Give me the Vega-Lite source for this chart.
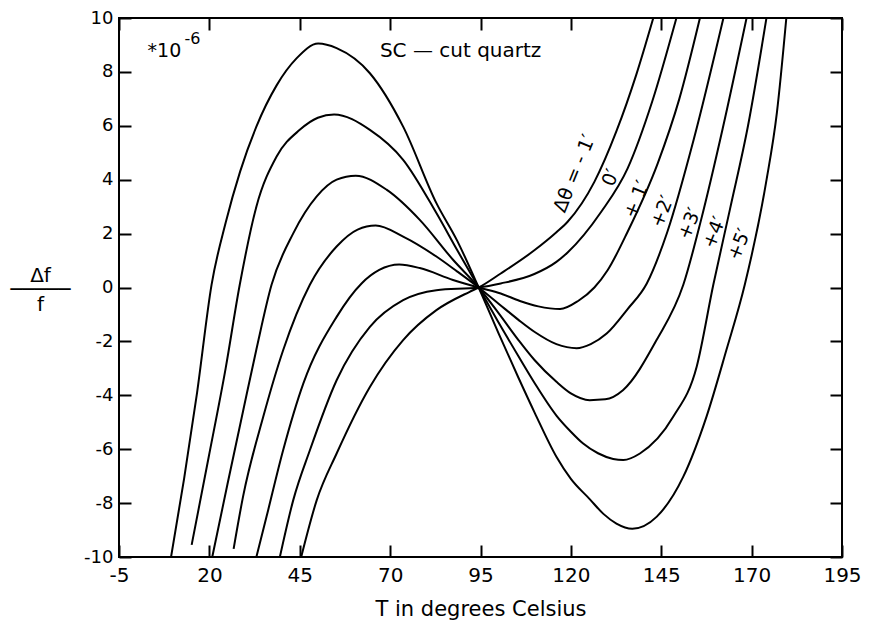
{
  "$schema": "https://vega.github.io/schema/vega-lite/v6.json",
  "width": 723,
  "height": 539,
  "autosize": {"type": "none"},
  "padding": {"left": 119, "top": 18, "right": 27, "bottom": 65},
  "background": "white",
  "config": {
    "font": "DejaVu Sans",
    "view": {"stroke": "black", "strokeWidth": 2},
    "axis": {
      "grid": false,
      "domain": false,
      "offset": -12,
      "tickColor": "black",
      "tickWidth": 2,
      "tickSize": 12,
      "labelColor": "black",
      "titleColor": "black",
      "titleFontWeight": "normal",
      "labelFont": "DejaVu Sans",
      "titleFont": "DejaVu Sans"
    }
  },
  "datasets": {
    "curves": [
      {"dtheta": "+5", "T": 9.4, "df": -10},
      {"dtheta": "+5", "T": 13.0, "df": -7.1},
      {"dtheta": "+5", "T": 16.6, "df": -3.9},
      {"dtheta": "+5", "T": 20.6, "df": 0.1},
      {"dtheta": "+5", "T": 24.5, "df": 2.4},
      {"dtheta": "+5", "T": 28.5, "df": 4.3},
      {"dtheta": "+5", "T": 33.0, "df": 5.97},
      {"dtheta": "+5", "T": 38.6, "df": 7.5},
      {"dtheta": "+5", "T": 44.1, "df": 8.5},
      {"dtheta": "+5", "T": 50.1, "df": 9.05},
      {"dtheta": "+5", "T": 55.2, "df": 8.88},
      {"dtheta": "+5", "T": 64.4, "df": 7.95},
      {"dtheta": "+5", "T": 73.6, "df": 5.97},
      {"dtheta": "+5", "T": 82.8, "df": 3.13},
      {"dtheta": "+5", "T": 88.5, "df": 1.75},
      {"dtheta": "+5", "T": 94.5, "df": 0},
      {"dtheta": "+5", "T": 100.0, "df": -1.7},
      {"dtheta": "+5", "T": 105.5, "df": -3.35},
      {"dtheta": "+5", "T": 110.0, "df": -4.65},
      {"dtheta": "+5", "T": 116.0, "df": -6.28},
      {"dtheta": "+5", "T": 120.0, "df": -7.1},
      {"dtheta": "+5", "T": 125.2, "df": -7.85},
      {"dtheta": "+5", "T": 129.0, "df": -8.4},
      {"dtheta": "+5", "T": 132.6, "df": -8.76},
      {"dtheta": "+5", "T": 137.0, "df": -8.95},
      {"dtheta": "+5", "T": 143.7, "df": -8.51},
      {"dtheta": "+5", "T": 151.1, "df": -7.02},
      {"dtheta": "+5", "T": 157.5, "df": -4.8},
      {"dtheta": "+5", "T": 163.0, "df": -2.33},
      {"dtheta": "+5", "T": 168.1, "df": 0.1},
      {"dtheta": "+5", "T": 174.0, "df": 3.9},
      {"dtheta": "+5", "T": 177.0, "df": 6.5},
      {"dtheta": "+5", "T": 179.6, "df": 10},

      {"dtheta": "+4", "T": 15.1, "df": -9.55},
      {"dtheta": "+4", "T": 19.8, "df": -6.3},
      {"dtheta": "+4", "T": 24.5, "df": -3.0},
      {"dtheta": "+4", "T": 28.4, "df": 0.1},
      {"dtheta": "+4", "T": 33.0, "df": 3.0},
      {"dtheta": "+4", "T": 38.6, "df": 4.86},
      {"dtheta": "+4", "T": 45.0, "df": 5.85},
      {"dtheta": "+4", "T": 50.0, "df": 6.3},
      {"dtheta": "+4", "T": 54.5, "df": 6.42},
      {"dtheta": "+4", "T": 64.4, "df": 5.85},
      {"dtheta": "+4", "T": 73.6, "df": 4.74},
      {"dtheta": "+4", "T": 82.8, "df": 2.76},
      {"dtheta": "+4", "T": 88.5, "df": 1.4},
      {"dtheta": "+4", "T": 94.5, "df": 0},
      {"dtheta": "+4", "T": 100.0, "df": -1.3},
      {"dtheta": "+4", "T": 105.5, "df": -2.55},
      {"dtheta": "+4", "T": 110.0, "df": -3.55},
      {"dtheta": "+4", "T": 116.0, "df": -4.75},
      {"dtheta": "+4", "T": 120.0, "df": -5.35},
      {"dtheta": "+4", "T": 123.4, "df": -5.79},
      {"dtheta": "+4", "T": 127.5, "df": -6.15},
      {"dtheta": "+4", "T": 131.7, "df": -6.36},
      {"dtheta": "+4", "T": 134.5, "df": -6.4},
      {"dtheta": "+4", "T": 139.1, "df": -6.16},
      {"dtheta": "+4", "T": 148.3, "df": -4.8},
      {"dtheta": "+4", "T": 154.8, "df": -2.94},
      {"dtheta": "+4", "T": 159.4, "df": 0.1},
      {"dtheta": "+4", "T": 164.0, "df": 2.9},
      {"dtheta": "+4", "T": 169.0, "df": 6.0},
      {"dtheta": "+4", "T": 174.1, "df": 10},

      {"dtheta": "+3", "T": 20.8, "df": -10},
      {"dtheta": "+3", "T": 25.0, "df": -7.3},
      {"dtheta": "+3", "T": 29.3, "df": -4.6},
      {"dtheta": "+3", "T": 33.0, "df": -2.3},
      {"dtheta": "+3", "T": 37.2, "df": 0.1},
      {"dtheta": "+3", "T": 43.2, "df": 2.01},
      {"dtheta": "+3", "T": 49.7, "df": 3.38},
      {"dtheta": "+3", "T": 55.2, "df": 4.0},
      {"dtheta": "+3", "T": 60.5, "df": 4.15},
      {"dtheta": "+3", "T": 69.0, "df": 3.63},
      {"dtheta": "+3", "T": 78.2, "df": 2.51},
      {"dtheta": "+3", "T": 87.4, "df": 1.03},
      {"dtheta": "+3", "T": 94.5, "df": 0},
      {"dtheta": "+3", "T": 100.0, "df": -0.95},
      {"dtheta": "+3", "T": 105.5, "df": -1.95},
      {"dtheta": "+3", "T": 110.0, "df": -2.7},
      {"dtheta": "+3", "T": 116.0, "df": -3.5},
      {"dtheta": "+3", "T": 120.0, "df": -3.93},
      {"dtheta": "+3", "T": 125.2, "df": -4.18},
      {"dtheta": "+3", "T": 129.5, "df": -4.15},
      {"dtheta": "+3", "T": 134.4, "df": -3.81},
      {"dtheta": "+3", "T": 143.7, "df": -1.95},
      {"dtheta": "+3", "T": 151.1, "df": 0.1},
      {"dtheta": "+3", "T": 156.0, "df": 2.5},
      {"dtheta": "+3", "T": 162.0, "df": 5.9},
      {"dtheta": "+3", "T": 168.6, "df": 10},

      {"dtheta": "+2", "T": 26.7, "df": -9.7},
      {"dtheta": "+2", "T": 29.3, "df": -7.77},
      {"dtheta": "+2", "T": 34.9, "df": -4.8},
      {"dtheta": "+2", "T": 40.4, "df": -2.33},
      {"dtheta": "+2", "T": 47.8, "df": 0.1},
      {"dtheta": "+2", "T": 55.2, "df": 1.52},
      {"dtheta": "+2", "T": 61.0, "df": 2.15},
      {"dtheta": "+2", "T": 66.0, "df": 2.3},
      {"dtheta": "+2", "T": 73.6, "df": 1.89},
      {"dtheta": "+2", "T": 82.8, "df": 1.15},
      {"dtheta": "+2", "T": 88.5, "df": 0.6},
      {"dtheta": "+2", "T": 94.5, "df": 0},
      {"dtheta": "+2", "T": 100.0, "df": -0.6},
      {"dtheta": "+2", "T": 105.5, "df": -1.2},
      {"dtheta": "+2", "T": 110.0, "df": -1.65},
      {"dtheta": "+2", "T": 116.0, "df": -2.1},
      {"dtheta": "+2", "T": 121.6, "df": -2.25},
      {"dtheta": "+2", "T": 125.5, "df": -2.1},
      {"dtheta": "+2", "T": 129.9, "df": -1.71},
      {"dtheta": "+2", "T": 135.7, "df": -0.8},
      {"dtheta": "+2", "T": 141.0, "df": 0.15},
      {"dtheta": "+2", "T": 146.7, "df": 2.07},
      {"dtheta": "+2", "T": 154.0, "df": 5.5},
      {"dtheta": "+2", "T": 162.2, "df": 10},

      {"dtheta": "+1", "T": 33.0, "df": -10},
      {"dtheta": "+1", "T": 35.8, "df": -8.51},
      {"dtheta": "+1", "T": 40.4, "df": -6.04},
      {"dtheta": "+1", "T": 46.0, "df": -3.56},
      {"dtheta": "+1", "T": 55.2, "df": -1.09},
      {"dtheta": "+1", "T": 62.1, "df": 0.15},
      {"dtheta": "+1", "T": 67.0, "df": 0.65},
      {"dtheta": "+1", "T": 72.5, "df": 0.85},
      {"dtheta": "+1", "T": 78.2, "df": 0.72},
      {"dtheta": "+1", "T": 87.4, "df": 0.28},
      {"dtheta": "+1", "T": 94.5, "df": 0},
      {"dtheta": "+1", "T": 100.6, "df": -0.22},
      {"dtheta": "+1", "T": 105.9, "df": -0.5},
      {"dtheta": "+1", "T": 111.0, "df": -0.7},
      {"dtheta": "+1", "T": 117.0, "df": -0.8},
      {"dtheta": "+1", "T": 122.0, "df": -0.5},
      {"dtheta": "+1", "T": 126.5, "df": 0.0},
      {"dtheta": "+1", "T": 130.2, "df": 0.65},
      {"dtheta": "+1", "T": 135.7, "df": 2.07},
      {"dtheta": "+1", "T": 144.0, "df": 4.6},
      {"dtheta": "+1", "T": 150.0, "df": 7.0},
      {"dtheta": "+1", "T": 155.7, "df": 10},

      {"dtheta": "0", "T": 39.5, "df": -10},
      {"dtheta": "0", "T": 43.2, "df": -7.89},
      {"dtheta": "0", "T": 47.8, "df": -6.04},
      {"dtheta": "0", "T": 55.2, "df": -3.44},
      {"dtheta": "0", "T": 64.4, "df": -1.46},
      {"dtheta": "0", "T": 73.6, "df": -0.47},
      {"dtheta": "0", "T": 82.8, "df": -0.1},
      {"dtheta": "0", "T": 94.5, "df": 0},
      {"dtheta": "0", "T": 100.6, "df": 0.15},
      {"dtheta": "0", "T": 109.9, "df": 0.5},
      {"dtheta": "0", "T": 116.0, "df": 0.95},
      {"dtheta": "0", "T": 119.1, "df": 1.3},
      {"dtheta": "0", "T": 128.4, "df": 2.81},
      {"dtheta": "0", "T": 135.7, "df": 4.42},
      {"dtheta": "0", "T": 142.5, "df": 6.9},
      {"dtheta": "0", "T": 149.2, "df": 10},

      {"dtheta": "-1", "T": 45.4, "df": -10},
      {"dtheta": "-1", "T": 49.7, "df": -7.89},
      {"dtheta": "-1", "T": 55.2, "df": -6.16},
      {"dtheta": "-1", "T": 64.4, "df": -3.69},
      {"dtheta": "-1", "T": 73.6, "df": -1.95},
      {"dtheta": "-1", "T": 82.8, "df": -0.84},
      {"dtheta": "-1", "T": 92.0, "df": -0.16},
      {"dtheta": "-1", "T": 94.5, "df": 0},
      {"dtheta": "-1", "T": 100.6, "df": 0.52},
      {"dtheta": "-1", "T": 109.9, "df": 1.38},
      {"dtheta": "-1", "T": 116.0, "df": 2.05},
      {"dtheta": "-1", "T": 119.1, "df": 2.44},
      {"dtheta": "-1", "T": 126.5, "df": 3.92},
      {"dtheta": "-1", "T": 132.6, "df": 5.8},
      {"dtheta": "-1", "T": 138.1, "df": 7.9},
      {"dtheta": "-1", "T": 142.8, "df": 10}
    ],
    "curveLabels": [
      {"label": "Δθ = - 1′", "T": 121.0, "df": 4.23},
      {"label": "0′", "T": 131.0, "df": 4.08},
      {"label": "+ 1′", "T": 138.2, "df": 3.27},
      {"label": "+2′", "T": 145.3, "df": 2.82},
      {"label": "+3′", "T": 152.8, "df": 2.37},
      {"label": "+4′", "T": 159.7, "df": 2.04},
      {"label": "+5′", "T": 166.6, "df": 1.6}
    ]
  },
  "layer": [
    {
      "data": {"name": "curves"},
      "mark": {"type": "line", "color": "black", "strokeWidth": 2, "interpolate": "monotone", "clip": true},
      "encoding": {
        "x": {
          "field": "T",
          "type": "quantitative",
          "scale": {"domain": [-5, 195], "nice": false, "zero": false},
          "axis": {
            "orient": "bottom",
            "values": [-5, 20, 45, 70, 95, 120, 145, 170, 195],
            "labelExpr": "datum.value < 0 ? '-' + abs(datum.value) : '' + datum.value",
            "labelFontSize": 20,
            "labelPadding": 8,
            "labelFlush": false,
            "title": "T in degrees Celsius",
            "titleFontSize": 21,
            "titleY": 70,
            "titleBaseline": "alphabetic"
          }
        },
        "y": {
          "field": "df",
          "type": "quantitative",
          "scale": {"domain": [-10, 10], "nice": false, "zero": false},
          "axis": {
            "orient": "left",
            "values": [-10, -8, -6, -4, -2, 0, 2, 4, 6, 8, 10],
            "labelExpr": "datum.value < 0 ? '-' + abs(datum.value) : '' + datum.value",
            "labelFontSize": 18,
            "labelPadding": 6,
            "labelFlush": false,
            "title": ["Δf", "─────", "f"],
            "titleFontSize": 20,
            "titleAngle": 0,
            "titleAlign": "center",
            "titleBaseline": "middle",
            "titleLineHeight": 14.5,
            "titleX": -91,
            "titleY": 257
          }
        },
        "detail": {"field": "dtheta"}
      }
    },
    {
      "data": {"name": "curveLabels"},
      "mark": {"type": "text", "angle": -68, "fontSize": 19, "align": "center", "baseline": "middle", "color": "black"},
      "encoding": {
        "x": {
          "field": "T",
          "type": "quantitative",
          "axis": {"orient": "top", "values": [-5, 20, 45, 70, 95, 120, 145, 170, 195], "labels": false, "title": null}
        },
        "y": {
          "field": "df",
          "type": "quantitative",
          "axis": {"orient": "right", "values": [-10, -8, -6, -4, -2, 0, 2, 4, 6, 8, 10], "labels": false, "title": null}
        },
        "text": {"field": "label"}
      }
    },
    {
      "data": {"values": [{"note": "SC — cut quartz", "T": 89.5, "df": 8.57}]},
      "mark": {"type": "text", "fontSize": 20, "align": "center", "baseline": "alphabetic", "color": "black"},
      "encoding": {
        "x": {"field": "T", "type": "quantitative", "axis": null},
        "y": {"field": "df", "type": "quantitative", "axis": null},
        "text": {"field": "note"}
      }
    },
    {
      "data": {"values": [{"note": "*10", "T": 2.9, "df": 8.57}]},
      "mark": {"type": "text", "fontSize": 19, "align": "left", "baseline": "alphabetic", "color": "black"},
      "encoding": {
        "x": {"field": "T", "type": "quantitative", "axis": null},
        "y": {"field": "df", "type": "quantitative", "axis": null},
        "text": {"field": "note"}
      }
    },
    {
      "data": {"values": [{"note": "-6", "T": 13.1, "df": 9.02}]},
      "mark": {"type": "text", "fontSize": 16, "align": "left", "baseline": "alphabetic", "color": "black"},
      "encoding": {
        "x": {"field": "T", "type": "quantitative", "axis": null},
        "y": {"field": "df", "type": "quantitative", "axis": null},
        "text": {"field": "note"}
      }
    }
  ],
  "resolve": {"axis": {"x": "independent", "y": "independent"}}
}
